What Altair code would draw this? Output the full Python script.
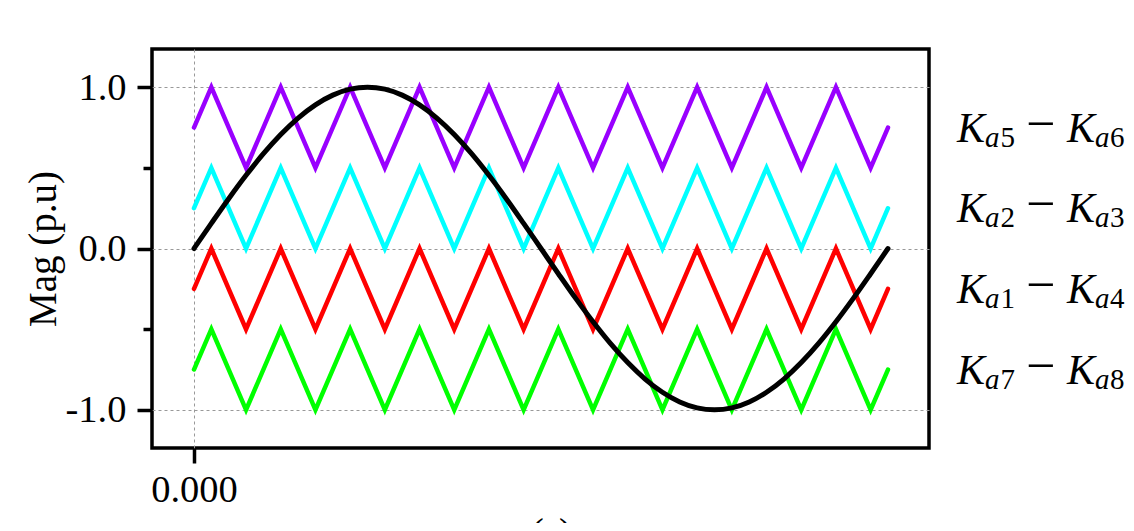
import altair as alt
import pandas as pd

# ---------------- data ----------------
# carrier vertices (s)
t_tri = [0.0, 0.0005, 0.0015, 0.0025, 0.0035, 0.0045, 0.0055, 0.0065, 0.0075, 0.0085, 0.0095,
         0.0105, 0.0115, 0.0125, 0.0135, 0.0145, 0.0155, 0.0165, 0.0175, 0.0185, 0.0195, 0.02]
k56 = [0.75, 1.0, 0.5, 1.0, 0.5, 1.0, 0.5, 1.0, 0.5, 1.0, 0.5,
       1.0, 0.5, 1.0, 0.5, 1.0, 0.5, 1.0, 0.5, 1.0, 0.5, 0.75]
k23 = [0.25, 0.5, 0.0, 0.5, 0.0, 0.5, 0.0, 0.5, 0.0, 0.5, 0.0,
       0.5, 0.0, 0.5, 0.0, 0.5, 0.0, 0.5, 0.0, 0.5, 0.0, 0.25]
k14 = [-0.25, 0.0, -0.5, 0.0, -0.5, 0.0, -0.5, 0.0, -0.5, 0.0, -0.5,
       0.0, -0.5, 0.0, -0.5, 0.0, -0.5, 0.0, -0.5, 0.0, -0.5, -0.25]
k78 = [-0.75, -0.5, -1.0, -0.5, -1.0, -0.5, -1.0, -0.5, -1.0, -0.5, -1.0,
       -0.5, -1.0, -0.5, -1.0, -0.5, -1.0, -0.5, -1.0, -0.5, -1.0, -0.75]

# reference (black) waveform
t_ref = [0.0, 0.0005, 0.001, 0.0015, 0.002, 0.0025, 0.003, 0.0035, 0.004, 0.0045,
         0.005, 0.0055, 0.006, 0.0065, 0.007, 0.0075, 0.008, 0.0085, 0.009, 0.0095,
         0.01, 0.0105, 0.011, 0.0115, 0.012, 0.0125, 0.013, 0.0135, 0.014, 0.0145,
         0.015, 0.0155, 0.016, 0.0165, 0.017, 0.0175, 0.018, 0.0185, 0.019, 0.0195, 0.02]
v_ref = [0.0, 0.156, 0.309, 0.454, 0.588, 0.707, 0.809, 0.891, 0.951, 0.988,
         1.0, 0.988, 0.951, 0.891, 0.809, 0.707, 0.588, 0.454, 0.309, 0.156,
         0.0, -0.156, -0.309, -0.454, -0.588, -0.707, -0.809, -0.891, -0.951, -0.988,
         -1.0, -0.988, -0.951, -0.891, -0.809, -0.707, -0.588, -0.454, -0.309, -0.156, 0.0]

series_names = ["Ka5-Ka6", "Ka2-Ka3", "Ka1-Ka4", "Ka7-Ka8"]
series_colors = ["#9900FF", "#00FFFF", "#FF0000", "#00FF00"]

# side labels
label_t = 0.02199
label_y = [0.75, 0.25, -0.25, -0.75]
sub_first = ["5", "2", "1", "7"]
sub_second = ["6", "3", "4", "8"]

# ---------------- tables ----------------
rows = []
for name, vals in zip(series_names, [k56, k23, k14, k78]):
    for t, v in zip(t_tri, vals):
        rows.append({"series": name, "t": t, "v": v})
df_tri = pd.DataFrame(rows)
df_ref = pd.DataFrame({"t": t_ref, "v": v_ref})
df_lab = pd.DataFrame({"t": [label_t] * len(label_y), "y": label_y,
                       "s1": sub_first, "s2": sub_second})

FONT = "'Liberation Serif', 'Times New Roman', Times, serif"
x_scale = alt.Scale(domain=[-0.00121, 0.021182], nice=False, zero=False)
y_scale = alt.Scale(domain=[-1.2365, 1.237], nice=False, zero=False)

x_axis = alt.Axis(values=[0], format=".3f", title="t (s)", grid=True, orient="bottom",
                  gridDash=[3, 3], gridColor="#999999", gridWidth=1,
                  domain=False, tickSize=15, tickWidth=3.5, tickColor="black",
                  labelFont=FONT, labelFontSize=38.5, labelColor="black", labelPadding=8,
                  titleFont=FONT, titleFontSize=39, titleFontWeight="normal",
                  titleColor="black", titlePadding=6)
y_axis_major = alt.Axis(values=[-1, 0, 1], orient="left",
                        labelExpr="datum.value == -1 ? '-1.0' : format(datum.value, '.1f')",
                        title="Mag (p.u)", grid=True, gridDash=[3, 3],
                        gridColor="#999999", gridWidth=1, domain=False,
                        tickSize=15, tickWidth=3.5, tickColor="black",
                        labelFont=FONT, labelFontSize=38.5, labelColor="black", labelPadding=11,
                        titleFont=FONT, titleFontSize=39, titleFontWeight="normal",
                        titleColor="black", titlePadding=2)
y_axis_minor = alt.Axis(values=[-0.5, 0.5], orient="left", labels=False, title=None,
                        grid=False, domain=False, tickSize=9, tickWidth=3.5,
                        tickColor="black")

carriers = alt.Chart(df_tri).mark_line(strokeCap="round").encode(
    x=alt.X("t:Q", scale=x_scale, axis=x_axis),
    y=alt.Y("v:Q", scale=y_scale, axis=y_axis_major),
    color=alt.Color("series:N", scale=alt.Scale(domain=series_names, range=series_colors),
                    legend=None),
    strokeWidth=alt.value(4.5),
)

reference = alt.Chart(df_ref).mark_line(color="black", interpolate="monotone",
                                        strokeCap="round").encode(
    x=alt.X("t:Q", scale=x_scale, axis=x_axis),
    y=alt.Y("v:Q", scale=y_scale, axis=y_axis_minor),
    strokeWidth=alt.value(5),
)

base = alt.Chart(df_lab).encode(
    x=alt.X("t:Q", scale=x_scale, axis=x_axis),
    y=alt.Y("y:Q", scale=y_scale, axis=None),
)
txt = dict(font=FONT, align="left", baseline="alphabetic", color="black")
k1 = base.mark_text(text="K", fontSize=42, fontStyle="italic", dx=0, dy=14, **txt)
a1 = base.mark_text(text="a", fontSize=29, fontStyle="italic", dx=28, dy=19, **txt)
d1 = base.mark_text(fontSize=29, dx=43.5, dy=19, **txt).encode(text="s1:N")
minus = base.mark_text(text="\u2212", fontSize=52, dx=69, dy=13, **txt)
k2 = base.mark_text(text="K", fontSize=42, fontStyle="italic", dx=110, dy=14, **txt)
a2 = base.mark_text(text="a", fontSize=29, fontStyle="italic", dx=138, dy=19, **txt)
d2 = base.mark_text(fontSize=29, dx=153, dy=19, **txt).encode(text="s2:N")

chart = alt.layer(carriers, reference, k1, a1, d1, minus, k2, a2, d2).resolve_axis(
    y="independent"
).properties(
    width=777, height=399,
    autosize=alt.AutoSizeParams(type="none"),
    padding={"left": 144, "top": 41, "right": 197, "bottom": 75},
    background="white",
).configure_view(stroke="black", strokeWidth=3.5)

chart.save("out.html", embed_options={"renderer": "svg", "actions": False})
